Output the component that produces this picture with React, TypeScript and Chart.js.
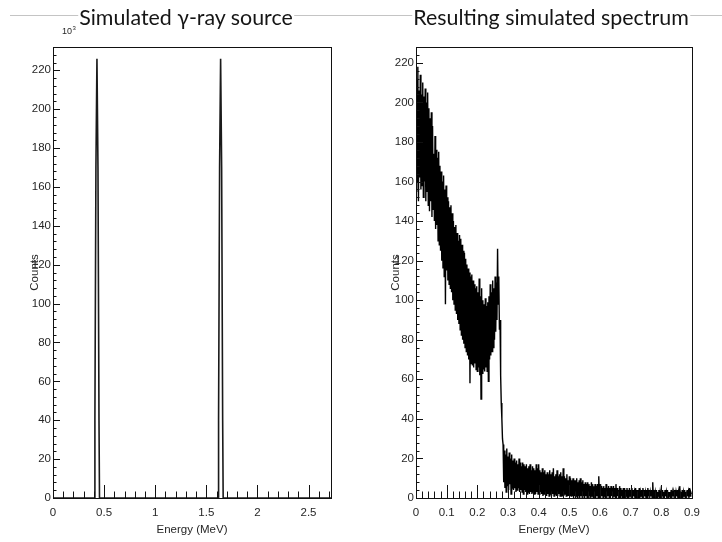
import React, { useEffect, useRef } from "react";
import { Chart, registerables } from "chart.js";

Chart.register(...registerables);

// ---------- text ----------
const LEFT_TITLE = "Simulated γ-ray source";
const RIGHT_TITLE = "Resulting simulated spectrum";
const X_TITLE = "Energy (MeV)";
const Y_TITLE = "Counts";

// ---------- left panel: simulated source (counts in 10^3) ----------
const SOURCE_ENERGY = [0, 0.405, 0.41, 0.42, 0.43, 0.44, 0.45, 0.455, 1.615, 1.62, 1.63, 1.64, 1.65, 1.66, 1.665, 2.72];
const SOURCE_COUNTS = [0, 0, 40, 170, 226, 170, 40, 0, 0, 40, 170, 226, 170, 40, 0, 0];

// ---------- right panel: resulting spectrum ----------
const SPECTRUM_BIN_WIDTH = 0.002; // MeV per bin, first bin at 0
const SPECTRUM_COUNTS = [
  155, 212, 160, 218, 150, 206, 162, 214, 156, 204, 158, 210, 152, 203, 160, 207, 150, 200, 155, 205,
  148, 197, 145, 192, 150, 195, 142, 188, 146, 174, 140, 183, 136, 176, 138, 172, 130, 175, 128, 168,
  125, 165, 120, 160, 116, 163, 112, 156, 98, 158, 115, 152, 110, 150, 108, 147, 106, 148, 104, 144,
  100, 140, 98, 137, 95, 138, 93, 134, 90, 130, 88, 133, 85, 131, 82, 128, 80, 125, 78, 124,
  76, 121, 74, 118, 72, 116, 70, 114, 58, 112, 68, 113, 67, 110, 66, 108, 68, 106, 65, 107,
  64, 104, 66, 111, 62, 102, 50, 106, 63, 100, 65, 98, 64, 101, 66, 97, 64, 99, 59, 102,
  70, 108, 72, 104, 74, 110, 76, 106, 80, 112, 84, 109, 90, 126, 98, 112, 85, 90, 62, 48,
  40, 30, 27, 8, 24, 5, 22, 3, 25, 6, 21, 4, 23, 7, 20, 2, 22, 5, 19, 4,
  20, 5, 18, 3, 19, 4, 17, 5, 20, 3, 18, 4, 16, 3, 18, 2, 17, 4, 16, 3,
  17, 2, 15, 3, 16, 2, 17, 3, 14, 2, 16, 3, 15, 2, 14, 2, 17, 3, 15, 2,
  17, 2, 14, 3, 13, 2, 15, 1, 13, 2, 14, 2, 12, 1, 13, 2, 12, 1, 14, 2,
  12, 1, 13, 2, 15, 1, 11, 2, 12, 1, 14, 1, 11, 2, 12, 1, 13, 1, 11, 1,
  15, 1, 11, 2, 10, 1, 12, 1, 9, 1, 11, 1, 10, 1, 9, 1, 10, 0, 9, 1,
  9, 1, 10, 0, 8, 1, 9, 0, 10, 1, 8, 0, 9, 1, 7, 0, 8, 1, 7, 0,
  8, 0, 7, 1, 6, 0, 8, 1, 7, 0, 6, 1, 7, 0, 6, 1, 7, 0, 11, 0,
  7, 0, 6, 1, 5, 0, 6, 1, 5, 0, 7, 0, 5, 1, 6, 0, 5, 0, 6, 1,
  5, 0, 6, 1, 5, 0, 7, 0, 5, 1, 4, 0, 6, 0, 5, 1, 4, 0, 5, 0,
  5, 0, 4, 1, 5, 0, 4, 0, 5, 1, 4, 0, 5, 0, 4, 1, 3, 0, 5, 0,
  4, 1, 4, 0, 5, 0, 3, 1, 4, 0, 5, 0, 4, 1, 3, 0, 4, 0, 5, 1,
  4, 0, 3, 1, 4, 0, 8, 0, 4, 1, 3, 0, 4, 0, 3, 1, 4, 0, 3, 0,
  3, 1, 4, 0, 3, 0, 4, 1, 3, 0, 4, 0, 3, 1, 3, 0, 4, 0, 3, 1,
  3, 0, 4, 0, 3, 1, 4, 0, 3, 0, 6, 1, 3, 0, 4, 0, 3, 1, 4, 0,
  3, 0, 4, 1, 3, 0, 5, 1, 3, 2,
];
const SPECTRUM_ENERGY = SPECTRUM_COUNTS.map((_, i) => i * SPECTRUM_BIN_WIDTH);

// ---------- axes ----------
const LEFT_X_MAX = 2.72;
const LEFT_X_MAJOR = 0.5;
const LEFT_X_MINOR = 0.1;
const LEFT_Y_MAX = 232;
const RIGHT_X_MAX = 0.9;
const RIGHT_X_MAJOR = 0.1;
const RIGHT_X_MINOR = 0.02;
const RIGHT_Y_MAX = 228;
const Y_MAJOR = 20;
const Y_MINOR = 4;

const AXIS_FONT = '"Liberation Sans", Arial, Helvetica, sans-serif';
const TEXT_COLOR = "#262626";

// ROOT-style frame with inward ticks
const rootAxes = {
  id: "rootAxes",
  afterDatasetsDraw(chart: any, _args: any, opts: any) {
    const { ctx, chartArea, scales } = chart;
    const { left, right, top, bottom } = chartArea;
    const x = scales.x;
    const y = scales.y;
    const isMajor = (v: number, step: number) => Math.abs(v / step - Math.round(v / step)) < 1e-6;
    ctx.save();
    ctx.strokeStyle = "#111";
    ctx.lineWidth = 1;
    ctx.beginPath();
    for (let k = 0; k * opts.yMinor <= y.max + 1e-9; k++) {
      const v = k * opts.yMinor;
      const py = Math.round(y.getPixelForValue(v)) + 0.5;
      const len = isMajor(v, opts.yMajor) ? 7 : 3.5;
      ctx.moveTo(left, py);
      ctx.lineTo(left + len, py);
    }
    for (let k = 0; k * opts.xMinor <= x.max + 1e-9; k++) {
      const v = k * opts.xMinor;
      const px = Math.round(x.getPixelForValue(v)) + 0.5;
      const len = isMajor(v, opts.xMajor) ? 13 : 6.5;
      ctx.moveTo(px, bottom);
      ctx.lineTo(px, bottom - len);
    }
    ctx.stroke();
    ctx.strokeRect(Math.round(left) + 0.5, Math.round(top) + 0.5, Math.round(right - left), Math.round(bottom - top));
    if (opts.exponent) {
      ctx.fillStyle = TEXT_COLOR;
      ctx.textBaseline = "alphabetic";
      ctx.textAlign = "left";
      ctx.font = `9px ${AXIS_FONT}`;
      ctx.fillText("10", left + 9, top - 13);
      const w = ctx.measureText("10").width;
      ctx.font = `6px ${AXIS_FONT}`;
      ctx.fillText("3", left + 9 + w + 0.5, top - 17);
    }
    ctx.restore();
  },
};

function makeConfig(
  energy: number[],
  counts: number[],
  xMax: number,
  yMax: number,
  xMajor: number,
  xMinor: number,
  yAxisWidth: number,
  lineWidth: number,
  lineColor: string,
  exponent: boolean
): any {
  const font = { family: AXIS_FONT, size: 11.5 };
  return {
    type: "line",
    data: {
      datasets: [
        {
          data: energy.map((e, i) => ({ x: e, y: counts[i] })),
          borderColor: lineColor,
          borderWidth: lineWidth,
          borderJoinStyle: "miter",
          pointRadius: 0,
          tension: 0,
          fill: false,
        },
      ],
    },
    options: {
      animation: false,
      responsive: false,
      events: [],
      layout: { padding: { left: 0, top: 47, right: 30, bottom: 0 } },
      plugins: {
        legend: { display: false },
        tooltip: { enabled: false },
        title: { display: false },
        rootAxes: { xMajor, xMinor, yMajor: Y_MAJOR, yMinor: Y_MINOR, exponent },
      },
      scales: {
        x: {
          type: "linear",
          min: 0,
          max: xMax,
          grid: { display: false, drawTicks: false, tickLength: 0 },
          border: { display: false },
          ticks: {
            stepSize: xMajor,
            includeBounds: false,
            autoSkip: false,
            maxRotation: 0,
            minRotation: 0,
            padding: 8,
            color: TEXT_COLOR,
            font,
            callback: (v: number) => String(Math.round(v * 100) / 100),
          },
          title: {
            display: true,
            text: X_TITLE,
            color: TEXT_COLOR,
            font,
            padding: { top: 0, bottom: 5 },
          },
          afterFit: (s: any) => {
            s.height = 44;
          },
        },
        y: {
          type: "linear",
          min: 0,
          max: yMax,
          grid: { display: false, drawTicks: false, tickLength: 0 },
          border: { display: false },
          ticks: {
            stepSize: Y_MAJOR,
            includeBounds: false,
            autoSkip: false,
            padding: 2,
            color: TEXT_COLOR,
            font,
          },
          title: {
            display: true,
            text: Y_TITLE,
            color: TEXT_COLOR,
            font,
            padding: { top: 28, bottom: 0 },
          },
          afterFit: (s: any) => {
            s.width = yAxisWidth;
          },
        },
      },
    },
    plugins: [rootAxes],
  };
}

function Panel(props: { left: number; config: any }) {
  const ref = useRef<HTMLCanvasElement | null>(null);
  useEffect(() => {
    if (!ref.current) return;
    const chart = new Chart(ref.current, props.config);
    return () => chart.destroy();
  }, []);
  return (
    <canvas
      ref={ref}
      width={361}
      height={542}
      style={{ position: "absolute", left: props.left, top: 0, width: 361, height: 542 }}
    />
  );
}

const titleStyle: React.CSSProperties = {
  position: "absolute",
  top: 6,
  transform: "translateX(-50%)",
  fontFamily: 'Lato, "Open Sans", sans-serif',
  fontSize: 21.4,
  lineHeight: "22px",
  color: "#151515",
  background: "#fff",
  whiteSpace: "nowrap",
  padding: "0 1px",
};

export default function App() {
  const leftConfig = makeConfig(SOURCE_ENERGY, SOURCE_COUNTS, LEFT_X_MAX, LEFT_Y_MAX, LEFT_X_MAJOR, LEFT_X_MINOR, 53, 1.6, "#1a1a1a", true);
  const rightConfig = makeConfig(SPECTRUM_ENERGY, SPECTRUM_COUNTS, RIGHT_X_MAX, RIGHT_Y_MAX, RIGHT_X_MAJOR, RIGHT_X_MINOR, 55, 1.4, "#000", false);
  return (
    <div style={{ position: "absolute", left: 0, top: 0, width: 722, height: 542, background: "#fff", overflow: "hidden" }}>
      <div style={{ position: "absolute", left: 10, top: 15, width: 712, height: 1, background: "#c4c4c4" }} />
      <Panel left={0} config={leftConfig} />
      <Panel left={361} config={rightConfig} />
      <div style={{ ...titleStyle, left: 186 }}>{LEFT_TITLE}</div>
      <div style={{ ...titleStyle, left: 551 }}>{RIGHT_TITLE}</div>
    </div>
  );
}
